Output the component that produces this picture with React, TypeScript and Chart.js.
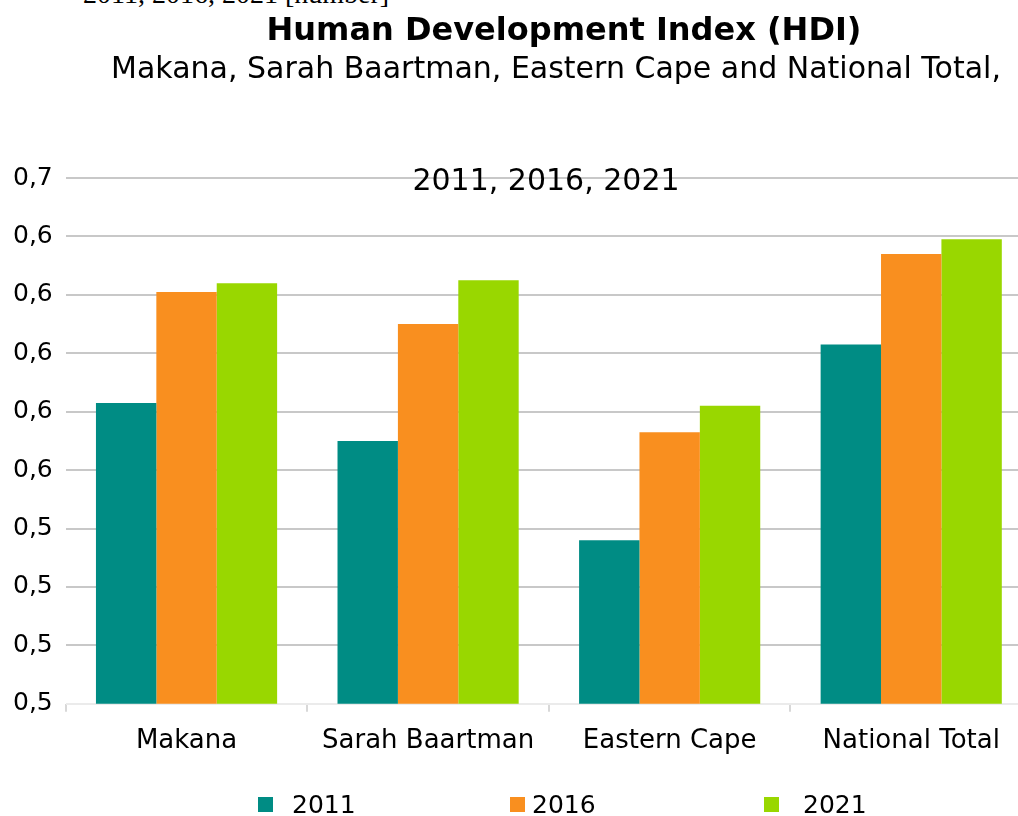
import React, { useEffect, useRef } from 'react';
import { Chart, registerables } from 'chart.js';

Chart.register(...registerables);

const categories = ['Makana', 'Sarah Baartman', 'Eastern Cape', 'National Total'];
const seriesLabels = ['2011', '2016', '2021'];
const values2011 = [0.583, 0.570, 0.536, 0.603];
const values2016 = [0.621, 0.610, 0.573, 0.634];
const values2021 = [0.624, 0.625, 0.582, 0.639];
const seriesColors = ['#008c84', '#f98f1f', '#99d700'];
const yTickLabels = ['0,5', '0,5', '0,5', '0,5', '0,6', '0,6', '0,6', '0,6', '0,6', '0,7'];
const yMin = 0.48;
const yMax = 0.66;
const yStep = 0.02;

const titleText = 'Human Development Index (HDI)';
const subtitleLines = ['Makana, Sarah Baartman, Eastern Cape and National Total,', '2011, 2016, 2021'];
const captionText = '2011, 2016, 2021 [number]';

const legendBoxX = [258, 510, 764];
const legendTextX = [292, 532, 803];

const FONT = '"DejaVu Sans", Verdana, sans-serif';

const overlayPlugin = {
  id: 'overlay',
  afterDraw(chart: any) {
    const ctx = chart.ctx as CanvasRenderingContext2D;
    ctx.save();
    ctx.fillStyle = '#000';
    ctx.textAlign = 'center';
    ctx.textBaseline = 'middle';
    ctx.font = `bold 32px ${FONT}`;
    ctx.fillText(titleText, 564, 32);
    ctx.font = `30px ${FONT}`;
    ctx.fillText(subtitleLines[0], 556, 70);
    ctx.fillText(subtitleLines[1], 546, 182);

    ctx.textAlign = 'left';
    ctx.font = `25px ${FONT}`;
    chart.data.datasets.forEach((ds: any, i: number) => {
      ctx.fillStyle = ds.backgroundColor;
      ctx.fillRect(legendBoxX[i], 797, 15, 15);
      ctx.fillStyle = '#000';
      ctx.fillText(ds.label, legendTextX[i], 806);
    });
    ctx.restore();
  },
};

export default function App() {
  const canvasRef = useRef<HTMLCanvasElement | null>(null);

  useEffect(() => {
    if (!canvasRef.current) return;
    const seriesValues = [values2011, values2016, values2021];
    const chart = new Chart(canvasRef.current, {
      type: 'bar',
      data: {
        labels: categories,
        datasets: seriesLabels.map((label, i) => ({
          label,
          data: seriesValues[i],
          backgroundColor: seriesColors[i],
          borderWidth: 0,
          barPercentage: 1,
          categoryPercentage: 0.75,
        })),
      },
      options: {
        animation: false,
        responsive: false,
        devicePixelRatio: 1,
        layout: { padding: { top: 178, left: 0, right: 28, bottom: 45 } },
        plugins: {
          legend: { display: false },
          title: { display: false },
          tooltip: { enabled: false },
        },
        scales: {
          x: {
            type: 'category',
            grid: {
              offset: true,
              drawOnChartArea: false,
              drawTicks: true,
              tickLength: 8,
              color: '#d8d8d8',
              lineWidth: 2,
            },
            border: { display: false },
            ticks: {
              color: '#000',
              font: { family: FONT, size: 26 },
              padding: 14,
              maxRotation: 0,
              autoSkip: false,
            },
          },
          y: {
            min: yMin,
            max: yMax,
            grid: {
              drawTicks: false,
              lineWidth: 2,
              color: (c: any) => (c.tick && Math.abs(c.tick.value - yMin) < 1e-9 ? '#ebebeb' : '#c8c8c8'),
            },
            border: { display: false },
            ticks: {
              stepSize: yStep,
              color: '#000',
              font: { family: FONT, size: 25 },
              padding: 13,
              callback: (_v: any, i: number) => yTickLabels[i],
            },
          },
        },
      },
      plugins: [overlayPlugin],
    });
    return () => chart.destroy();
  }, []);

  return (
    <div
      style={{
        position: 'fixed',
        left: 0,
        top: 0,
        width: 1018,
        height: 816,
        overflow: 'hidden',
        background: '#fff',
      }}
    >
      <div
        style={{
          position: 'absolute',
          left: 83,
          top: -20,
          fontFamily: '"Liberation Serif", serif',
          fontSize: 28,
          lineHeight: '28px',
          whiteSpace: 'nowrap',
          color: '#000',
        }}
      >
        {captionText}
      </div>
      <canvas
        ref={canvasRef}
        width={1060}
        height={816}
        style={{ position: 'absolute', left: 0, top: 0, width: 1060, height: 816 }}
      />
    </div>
  );
}
